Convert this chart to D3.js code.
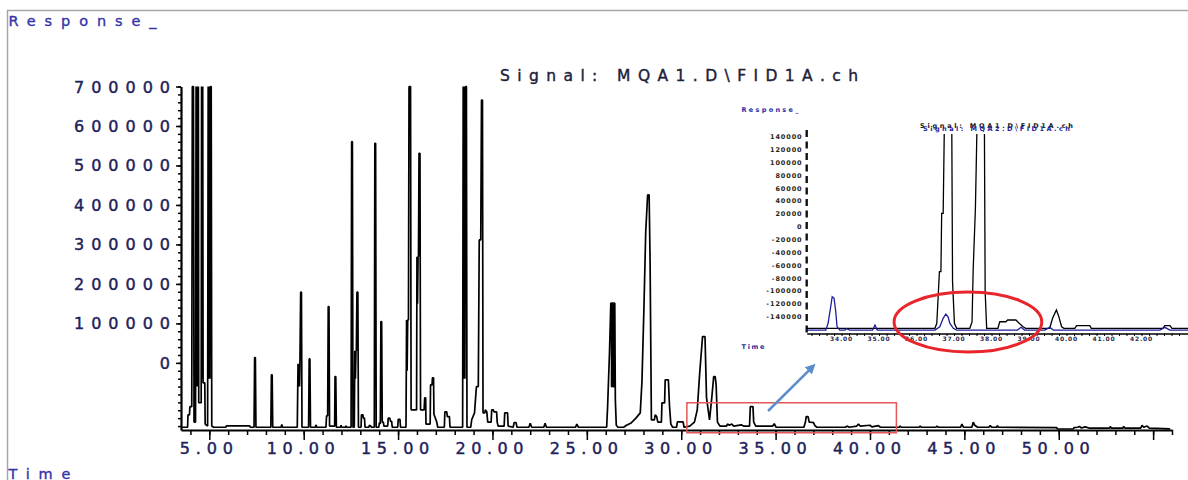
<!DOCTYPE html>
<html><head><meta charset="utf-8">
<script src="https://cdn.jsdelivr.net/npm/d3@7"></script>
<style>html,body{margin:0;padding:0;background:#fff;overflow:hidden}</style>
</head><body><svg id="c" width="1188" height="480"></svg>
<script>
// ---------- DATA ----------
// main FID chromatogram: [retention time (min), response]
const mainTrace = [
[3.52,-163000],[3.85,-163000],[3.87,-131600],[3.95,-131600],[3.97,-111000],[4.07,-111000],
[4.10,700000],[4.16,700000],[4.19,-150000],[4.27,-150000],
[4.30,700000],[4.33,-60000],[4.36,700000],[4.39,-60000],[4.42,700000],[4.44,-101000],[4.57,-101000],
[4.59,700000],[4.62,-40000],[4.65,700000],[4.67,-50600],[4.76,-50600],[4.78,-155000],[4.91,-160000],
[4.94,700000],[4.97,-40000],[5.00,700000],[5.03,-40000],[5.06,700000],[5.10,700000],[5.13,-160000],[5.22,-163000],
[5.88,-163000],[5.90,-159500],[7.14,-159500],[7.17,-163000],
[7.37,-163000],[7.40,13400],[7.44,13400],[7.47,-163000],
[8.26,-163000],[8.29,-30400],[8.33,-30400],[8.36,-163000],
[8.80,-163000],[8.84,-156000],[8.88,-163000],
[9.66,-163000],[9.70,-2500],[9.73,-60000],[9.76,-2500],[9.78,-60000],[9.80,-2500],[9.84,179000],[9.88,179000],[9.91,-163000],
[10.26,-163000],[10.29,10100],[10.33,10100],[10.36,-163000],
[10.62,-163000],[10.65,-157000],[10.69,-163000],
[11.18,-163000],[11.21,-134200],[11.27,-134200],[11.30,142500],[11.34,142500],[11.37,-160000],
[11.64,-160000],[11.66,-34700],[11.70,-34700],[11.73,-163000],
[11.95,-163000],[11.98,-158000],[12.02,-163000],
[12.20,-163000],[12.24,-160000],[12.28,-163000],
[12.51,-163000],[12.54,560200],[12.58,560200],[12.61,-163000],
[12.68,-163000],[12.71,30400],[12.74,-40000],[12.77,30400],[12.79,30400],[12.82,179000],[12.87,179000],[12.90,-163000],
[13.04,-163000],[13.06,-131600],[13.14,-131600],[13.16,-140000],[13.22,-140000],[13.25,-163000],
[13.45,-163000],[13.48,-158000],[13.55,-160000],[13.58,-163000],
[13.74,-163000],[13.77,556200],[13.81,556200],[13.84,-163000],
[13.98,-163000],[14.01,-152000],[14.05,-152000],[14.06,-155000],[14.09,104600],[14.13,104600],[14.16,-150000],[14.22,-150000],[14.25,-160000],
[14.45,-160000],[14.48,-140000],[14.56,-140000],[14.60,-148000],[14.66,-148000],[14.69,-163000],
[14.98,-163000],[15.01,-143000],[15.10,-143000],[15.13,-163000],
[15.42,-163000],[15.45,108900],[15.48,-20000],[15.51,108900],[15.55,108900],[15.58,700000],[15.66,700000],[15.69,-119000],
[15.98,-119000],[16.00,269100],[16.03,150000],[16.06,269100],[16.08,269100],[16.11,530900],[16.16,530900],[16.19,-119000],
[16.38,-119000],[16.41,-88600],[16.46,-88600],[16.48,-155000],[16.70,-155000],
[16.72,-55700],[16.80,-55700],[16.82,-38000],[16.88,-38000],[16.90,-130000],[17.05,-150000],[17.10,-163000],
[17.45,-163000],[17.48,-124000],[17.58,-124000],[17.61,-136000],[17.72,-136000],[17.75,-163000],
[18.42,-163000],[18.45,700000],[18.48,-40000],[18.51,700000],[18.54,-40000],[18.57,700000],[18.62,700000],[18.65,-163000],
[18.85,-163000],[18.90,-144000],[19.05,-126600],[19.15,-60000],[19.25,-60000],[19.30,311400],[19.38,311400],[19.42,665800],[19.47,665800],[19.50,-126600],[19.60,-126600],
[19.62,-119000],[19.70,-124000],[19.75,-150000],
[19.93,-150000],[19.96,-119000],[20.05,-119000],[20.08,-124000],[20.22,-124000],[20.25,-150000],[20.30,-160000],
[20.62,-160000],[20.65,-126600],[20.80,-126600],[20.83,-160000],
[21.10,-163000],[21.15,-151000],[21.25,-151000],[21.30,-163000],
[21.93,-163000],[22.00,-153000],[22.08,-163000],
[22.72,-163000],[22.79,-153000],[22.86,-163000],
[24.40,-163000],[24.47,-155000],[24.55,-163000],
[26.05,-163000],[26.10,-111000],[26.20,25300],[26.27,151100],[26.31,151100],[26.31,-60000],[26.35,-60000],[26.35,151100],[26.40,151100],[26.40,-60000],[26.44,-60000],[26.44,151100],[26.48,151100],[26.51,-93700],[26.56,-158000],[26.65,-163000],
[26.95,-163000],[27.10,-158000],[27.35,-152000],[27.60,-140000],[27.83,-126600],[27.92,-47300],[28.02,129900],[28.12,332400],[28.22,425300],[28.30,425300],[28.35,260800],[28.42,-144300],
[28.58,-144300],[28.62,-131600],[28.70,-136000],[28.76,-150000],
[28.95,-150000],[28.98,-101300],[29.12,-101300],[29.15,-43000],[29.32,-43000],[29.38,-110000],[29.45,-155000],[29.55,-163000],
[29.75,-163000],[29.80,-149600],[30.10,-149600],[30.15,-163000],
[30.45,-160000],[30.70,-150000],[30.85,-119000],[30.98,-25300],[31.13,66600],[31.26,66600],[31.34,-88000],[31.50,-144300],[31.62,-88000],[31.72,-34700],[31.80,-34700],[31.85,-55700],[31.92,-150000],[32.05,-160000],
[32.40,-160000],[32.45,-155000],[32.55,-158000],[32.68,-155000],[32.78,-160000],[33.18,-157000],[33.30,-160000],
[33.62,-160000],[33.66,-110600],[33.80,-110600],[33.84,-150000],[33.95,-160000],
[34.85,-160000],[34.93,-154000],[35.02,-163000],
[36.50,-163000],[36.58,-150000],[36.62,-136000],[36.72,-136000],[36.78,-150000],[37.00,-151000],[37.10,-160000],[37.19,-163000],
[38.70,-163000],[38.78,-160000],[38.90,-163000],[39.30,-160000],[39.39,-155000],[39.48,-160000],[40.00,-158000],[40.10,-162000],[40.45,-159000],[40.55,-163000],
[41.55,-163000],[41.60,-160000],[41.66,-163000],[42.60,-163000],[42.66,-160000],[42.72,-163000],
[43.50,-163000],[43.55,-160000],[43.62,-163000],
[44.80,-163000],[44.87,-155000],[44.95,-163000],
[45.40,-163000],[45.47,-150000],[45.55,-158000],[45.70,-163000],
[46.30,-163000],[46.37,-159000],[46.45,-163000],[46.70,-163000],[46.75,-159000],[46.80,-163000],
[49.90,-164000],[49.92,-167500],[50.78,-167500],[50.80,-164000],
[51.00,-163000],[51.10,-161000],[51.20,-165000],[51.40,-162000],[51.60,-165000],
[52.70,-165000],[52.73,-161000],[52.78,-165000],[53.40,-165000],[53.44,-161000],[53.50,-165000],
[54.35,-165000],[54.41,-158000],[54.50,-163000],[54.68,-160000],[54.80,-165000],[55.90,-167000]
];
const xMinorTicks = d3.range(4, 57, 1);
const xMajorTicks = [5,10,15,20,25,30,35,40,45,50,55];
const xTickValues = [5,10,15,20,25,30,35,40,45,50];
const xTickLabels = ["5.00","10.00","15.00","20.00","25.00","30.00","35.00","40.00","45.00","50.00"];
const yMinorTicks = d3.range(-160000, 700001, 20000);
const yTickValues = [700000,600000,500000,400000,300000,200000,100000,0];
const yTickLabels = ["700000","600000","500000","400000","300000","200000","100000","0"];
const chartTitle = "Signal: MQA1.D\\FID1A.ch";
// red box / arrow annotation in data units
const boxTime = [30.3, 41.4];
const boxResp = [-177000, -101000];
const arrowTime = [34.6, 36.85];
const arrowResp = [-121900, -15000];

// inset (overlay of two signals)
const insetBlack = [
[33.07,-158000],[36.49,-158000],[36.54,-150300],[36.61,-70000],[36.65,-70000],[36.67,20800],[36.71,20800],[36.74,150000],[36.94,150000],[36.96,-85600],[37.01,-150300],[37.07,-158000],
[37.42,-158000],[37.48,-148200],[37.51,-67400],[37.57,28600],[37.61,150000],[37.81,150000],[37.83,-101100],[37.87,-158000],
[38.17,-158000],[38.22,-147800],[38.38,-147800],[38.43,-145100],[38.65,-145100],[38.73,-149800],[38.84,-155600],[38.91,-158000],
[39.55,-158000],[39.63,-142000],[39.73,-129600],[39.79,-139000],[39.87,-155600],[39.93,-158000],
[40.22,-158000],[40.27,-153700],[40.62,-153700],[40.66,-158000],
[42.57,-158000],[42.62,-153700],[42.76,-153700],[42.81,-158000],[43.24,-158000]
];
const insetBlue = [
[33.07,-160700],[33.58,-160700],[33.64,-150300],[33.71,-124500],[33.75,-108900],[33.80,-111400],[33.84,-129600],[33.88,-155600],[33.95,-160700],
[34.09,-160700],[34.13,-158600],[34.22,-160700],[34.83,-160700],[34.89,-152900],[34.95,-160700],
[36.49,-160700],[36.62,-155600],[36.71,-142500],[36.78,-135800],[36.84,-140000],[36.89,-150300],[36.98,-158000],[37.07,-160700],
[38.69,-160700],[38.79,-156500],[38.88,-160700],[39.42,-160700],[39.55,-156500],[39.65,-160700],
[42.49,-160700],[42.62,-156500],[42.76,-160700],[43.24,-160700]
];
const insetYTicks = [140000,120000,100000,80000,60000,40000,20000,0,-20000,-40000,-60000,-80000,-100000,-120000,-140000];
const insetYLabels = ["140000","120000","100000","80000","60000","40000","20000","0","-20000","-40000","-60000","-80000","-100000","-120000","-140000"];
const insetXTicks = [34,35,36,37,38,39,40,41,42];
const insetXLabels = ["34.00","35.00","36.00","37.00","38.00","39.00","40.00","41.00","42.00"];
const insetTitles = ["Signal: MQA1.D\\FID1A.ch", "Signal: MQA2.D\\FID1A.ch"];
// highlight ellipse in inset units
const ellipseCenter = [37.37, -148200];
const ellipseRadius = [1.97, 46700];

// ---------- DRAW ----------
const svg = d3.select("#c");
const FONT = "'DejaVu Sans', Verdana, sans-serif";
const LABEL = "#22225a";

// frame
svg.append("line").attr("x1",7).attr("x2",1188).attr("y1",10.5).attr("y2",10.5).attr("stroke","#a6a6a6").attr("stroke-width",1.5);
svg.append("line").attr("x1",7.5).attr("x2",7.5).attr("y1",10).attr("y2",480).attr("stroke","#a6a6a6").attr("stroke-width",1.5);

function txt(g, s, x, y, o) {
  const t = g.append("text").attr("x", x).attr("y", y).text(s)
    .attr("font-family", o.family || FONT).attr("font-size", o.size)
    .attr("fill", o.fill).attr("text-anchor", o.anchor || "start");
  if (o.weight) t.attr("font-weight", o.weight);
  if (o.width) t.attr("textLength", o.width).attr("lengthAdjust", "spacing");
  if (o.ls) t.attr("letter-spacing", o.ls);
  if (o.sw) t.attr("stroke", o.fill).attr("stroke-width", o.sw);
  return t;
}

txt(svg, "Response_", 8.5, 26, {size: 14.5, fill: "#3434a8", width: 148, sw: 0.35});
txt(svg, "Time", 8.5, 479, {size: 14.5, fill: "#3434a8", width: 62, sw: 0.35});
txt(svg, chartTitle, 500, 81, {size: 15.5, fill: "#20203a", width: 358, sw: 0.4});

const x = d3.scaleLinear().domain([3.5, 56]).range([181, 1172]);
const y = d3.scaleLinear().domain([-170000, 700000]).range([430, 86.5]);

// x axis
const gx = svg.append("g").attr("transform", "translate(0,430)");
gx.call(d3.axisBottom(x).tickValues(xMinorTicks).tickSize(5).tickSizeOuter(0).tickFormat(""));
const gx2 = svg.append("g").attr("transform", "translate(0,430)");
gx2.call(d3.axisBottom(x).tickValues(xMajorTicks).tickSize(10).tickSizeOuter(0).tickFormat(""));
gx2.select(".domain").remove();
gx.select(".domain").attr("stroke-width", 2.2);
svg.selectAll("g .tick line").attr("stroke-width", 1.5);
xTickValues.forEach((v, i) => {
  const s = xTickLabels[i];
  const w = s.length === 4 ? 53 : 68;
  txt(svg, s, x(v) - 3 - w / 2, 454, {size: 16, fill: LABEL, width: w, sw: 0.45});
});

// y axis
const gy = svg.append("g").attr("transform", "translate(181,0)");
gy.call(d3.axisLeft(y).tickValues(yMinorTicks).tickSize(3).tickSizeOuter(0).tickFormat(""));
gy.select(".domain").attr("stroke-width", 2.2);
const gy2 = svg.append("g").attr("transform", "translate(181,0)");
gy2.call(d3.axisLeft(y).tickValues(yTickValues).tickSize(5).tickSizeOuter(0).tickFormat(""));
gy2.select(".domain").remove();
svg.selectAll("g .tick line").attr("stroke-width", 1.5);
yTickValues.forEach((v, i) => {
  const s = yTickLabels[i];
  const o = {size: 16, fill: LABEL, anchor: "end", sw: 0.45};
  if (s.length > 1) { o.width = 96; o.anchor = "start"; }
  txt(svg, s, s.length > 1 ? 170 - 96 : 170, y(v) + 6, o);
});

// main trace
const line = d3.line().x(d => x(d[0])).y(d => y(d[1]));
svg.append("path").datum(mainTrace).attr("d", line).attr("fill", "none")
  .attr("stroke", "#000").attr("stroke-width", 1.7).attr("stroke-linejoin", "bevel");

// red box
svg.append("rect").attr("x", x(boxTime[0])).attr("y", y(boxResp[1]))
  .attr("width", x(boxTime[1]) - x(boxTime[0])).attr("height", y(boxResp[0]) - y(boxResp[1]))
  .attr("fill", "none").attr("stroke", "#e35757").attr("stroke-width", 1.5);

// ---------- INSET ----------
const ig = svg.append("g");
ig.append("rect").attr("x", 735).attr("y", 100).attr("width", 453).attr("height", 250).attr("fill", "#fff");
const ix = d3.scaleLinear().domain([33.07, 43.24]).range([806.7, 1188]);
const iy = d3.scaleLinear().domain([-165000, 140000]).range([332.8, 136.7]);

txt(ig, "Response_", 741.5, 112, {size: 6.5, fill: "#2a2aa0", weight: "bold", width: 57});
txt(ig, "Time", 741.5, 348.5, {size: 6.5, fill: "#2a2aa0", weight: "bold", width: 23});
txt(ig, insetTitles[0], 920, 127.5, {size: 6.5, fill: "#111", weight: "bold", width: 153});
txt(ig, insetTitles[1], 923, 131, {size: 6.5, fill: "#26269a", weight: "bold", width: 147});

// inset y axis (dashed look)
ig.append("line").attr("x1", 806.7).attr("x2", 806.7).attr("y1", 130).attr("y2", 333)
  .attr("stroke", "#111").attr("stroke-width", 2.4).attr("stroke-dasharray", "7,4.5");
insetYTicks.forEach((v, i) => {
  txt(ig, insetYLabels[i], 802.5, iy(v) + 2.4, {size: 6.5, fill: "#2a2416", weight: "bold", anchor: "end", ls: 0.9});
});

// inset x axis
const gix = ig.append("g").attr("transform", "translate(0,333.5)");
gix.call(d3.axisBottom(ix).tickValues(d3.range(33.2, 43.2, 0.2)).tickSize(2.5).tickSizeOuter(0).tickFormat(""));
gix.selectAll(".tick line").attr("stroke-width", 1);
gix.select(".domain").attr("stroke-width", 1.4);
insetXTicks.forEach((v, i) => {
  txt(ig, insetXLabels[i], ix(v), 341, {size: 6, fill: "#2c2c50", weight: "bold", anchor: "middle", ls: 0.8});
});

ig.append("clipPath").attr("id", "iclip").append("rect").attr("x", 806).attr("y", 134).attr("width", 390).attr("height", 210);
const iline = d3.line().x(d => ix(d[0])).y(d => iy(d[1]));
ig.append("path").datum(insetBlack).attr("d", iline).attr("fill", "none").attr("clip-path", "url(#iclip)")
  .attr("stroke", "#000").attr("stroke-width", 1.3);
ig.append("path").datum(insetBlue).attr("d", iline).attr("fill", "none").attr("clip-path", "url(#iclip)")
  .attr("stroke", "#1c1c9a").attr("stroke-width", 1.3);

// red ellipse
ig.append("ellipse").attr("cx", ix(ellipseCenter[0])).attr("cy", iy(ellipseCenter[1]))
  .attr("rx", ix(ellipseCenter[0] + ellipseRadius[0]) - ix(ellipseCenter[0]))
  .attr("ry", iy(ellipseCenter[1]) - iy(ellipseCenter[1] + ellipseRadius[1]))
  .attr("fill", "none").attr("stroke", "#e8252b").attr("stroke-width", 3);

// arrow
const defs = svg.append("defs");
defs.append("marker").attr("id", "ah").attr("viewBox", "0 0 10 10").attr("refX", 3).attr("refY", 5)
  .attr("markerWidth", 4).attr("markerHeight", 4).attr("orient", "auto")
  .append("path").attr("d", "M0,0 L10,5 L0,10 z").attr("fill", "#5a8dcc");
svg.append("line").attr("x1", x(arrowTime[0])).attr("y1", y(arrowResp[0]))
  .attr("x2", x(arrowTime[1])).attr("y2", y(arrowResp[1]))
  .attr("stroke", "#5a8dcc").attr("stroke-width", 2.5).attr("marker-end", "url(#ah)");
</script></body></html>
